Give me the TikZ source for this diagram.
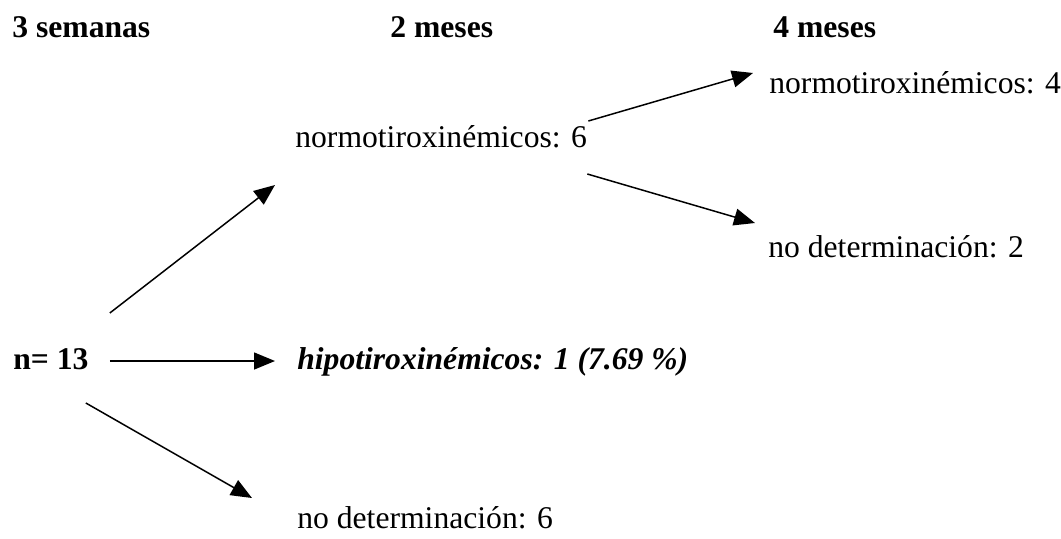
\documentclass[tikz,border=0pt]{standalone}
\usepackage{fontspec}
\setmainfont{Liberation Serif}
\usetikzlibrary{arrows.meta,calc}
\definecolor{ink}{RGB}{0,0,0}
\tikzset{
  >={Triangle[length=0.42cm,width=0.34cm]},
  lbl/.style={anchor=base west,inner sep=0pt,text=ink,font=\fontsize{18}{22}\selectfont},
  head/.style={lbl,font=\fontsize{18}{22}\selectfont\bfseries},
  flow/.style={->,line width=0.85pt,draw=#1},
  flow/.default=ink,
}
\begin{document}
\begin{tikzpicture}[x=0.02cm,y=-0.02cm]
  \useasboundingbox (0,0) rectangle (1061,538);
  % column headers
  \foreach \t/\x [count=\i] in {3 semanas/12,2 meses/390,4 meses/773}
    \node[head] (h\i) at (\x,37) {\t};
  % nodes
  \node[head] (n13) at (13,369) {n= 13};
  \node[lbl] (normo6) at (295,147) {normotiroxinémicos: 6};
  \node[lbl,font=\fontsize{18}{22}\selectfont\bfseries\itshape] (hipo) at (297,369) {hipotiroxinémicos: 1 (7.69 \%)};
  \node[lbl] (nodet6) at (297,528) {no determinación: 6};
  \node[lbl] (normo4) at (769,93) {normotiroxinémicos: 4};
  \node[lbl] (nodet2) at (768,257) {no determinación: 2};
  % arrows
  \draw[flow] ([shift={(21,-56)}]n13.base east) -- ([shift={(-20,38)}]normo6.base west);
  \draw[flow] ([shift={(21,-8)}]n13.base east) -- ([shift={(-22,-8)}]hipo.base west);
  \draw[flow] ([shift={(-3,34)}]n13.base east) -- ([shift={(-45,-30)}]nodet6.base west);
  \draw[flow] ([shift={(1,-26)}]normo6.base east) -- ([shift={(-16,-20)}]normo4.base west);
  \draw[flow] ([shift={(0,27)}]normo6.base east) -- ([shift={(-13,-34)}]nodet2.base west);
\end{tikzpicture}
\end{document}
